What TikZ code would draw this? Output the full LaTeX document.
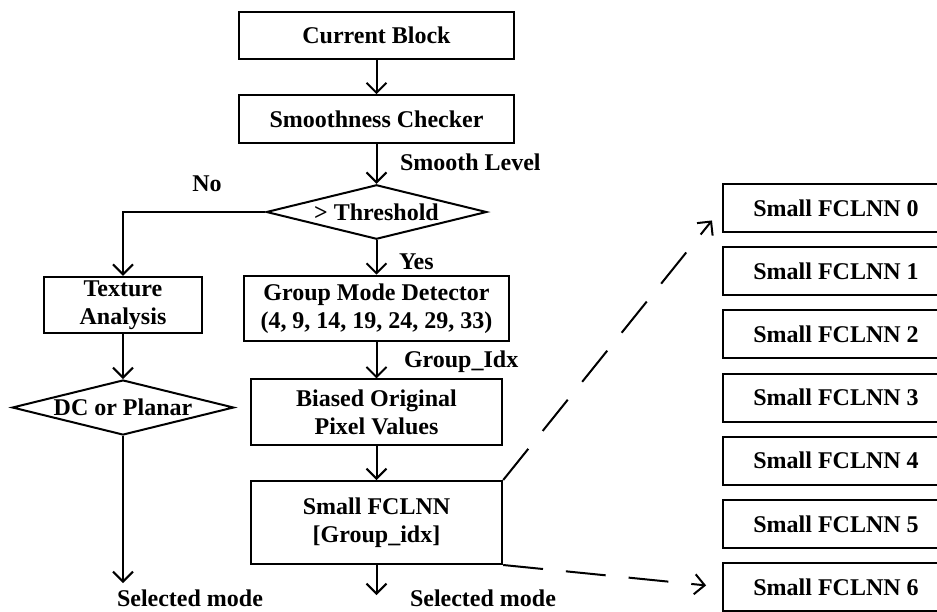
\documentclass[tikz,border=0pt]{standalone}
\usepackage{fontspec}
\setmainfont{Liberation Serif}
\usetikzlibrary{shapes.geometric,arrows.meta}

\begin{document}
\begin{tikzpicture}[x=0.5pt,y=-0.5pt,
    font=\bfseries\fontsize{12}{14}\selectfont,
    line width=1pt,
    >={Straight Barb[length=5pt,width=10pt]},
    box/.style={draw,rectangle,align=center,inner sep=0pt},
    decision/.style={draw,diamond,aspect=4,inner sep=0pt},
    netbox/.style={draw,rectangle,inner sep=0pt,minimum width=113pt,minimum height=24pt},
    lbl/.style={inner sep=0pt},
    link/.style={dash pattern=on 20pt off 11.5pt,shorten >=8pt}]

  % canvas; the FCLNN column runs off the right edge
  \useasboundingbox (0,0) rectangle (937,611);
  \clip (0,0) rectangle (937,611);

  \def\midx{376.5}   % main column
  \def\leftx{123}    % "No" branch column

  % main column
  \node[box, minimum width=137.9pt, minimum height=23.8pt] (cur) at (\midx,35.5) {Current Block};
  \node[box, minimum width=137.9pt, minimum height=23.8pt] (smooth) at (\midx,119) {Smoothness Checker};
  \node[decision, minimum width=110.2pt, minimum height=27.2pt] (thr) at (\midx,212) {> Threshold};
  \node[box, minimum width=132.5pt, minimum height=32.7pt] (group) at (\midx,308.4)
    {Group Mode Detector\\(4, 9, 14, 19, 24, 29, 33)};
  \node[box, minimum width=125.7pt, minimum height=32.8pt] (biased) at (\midx,412.2)
    {Biased Original\\Pixel Values};
  \node[box, minimum width=125.7pt, minimum height=41.5pt] (fcl) at (\midx,522.5)
    {Small FCLNN\\{[Group\_idx]}};

  % texture branch
  \node[box, minimum width=79pt, minimum height=28.2pt] (tex) at (\leftx,305) {Texture\\Analysis};
  \node[decision, minimum width=110.8pt, minimum height=27.5pt] (dc) at (\leftx,407.5) {DC or Planar};

  % loose ends of the output arrows
  \coordinate (outl) at (\leftx,583);
  \coordinate (outr) at (\midx,595);

  % the seven small networks
  \foreach \i in {0,...,6}
    \node[netbox] (nn\i) at (836,{208+63.17*\i}) {Small FCLNN \i};

  % flow
  \draw[->] (cur) -- (smooth);
  \draw[->] (smooth) -- (thr);
  \draw[->] (thr) -- (group);
  \draw[->] (thr.west) -| (tex.north);
  \draw[->] (tex) -- (dc);
  \draw[->] (dc) -- (outl);
  \draw[->] (group) -- (biased);
  \draw[->] (biased) -- (fcl);
  \draw[->] (fcl) -- (outr);

  % fan out to the network column
  \draw[->, link] (fcl.north east) -- (nn0.west);
  \draw[->, link] (fcl.south east) -- (nn6.west);

  % edge labels
  \node[lbl, anchor=base west] (smoothlvl) at (399,170) {Smooth Level};
  \node[lbl, anchor=base] (no) at (207,191.7) {No};
  \node[lbl, anchor=base west] (yes) at (398,269.3) {Yes};
  \node[lbl, anchor=base west] (gidx) at (403,367.3) {Group\_Idx};
  \node[lbl, anchor=base west] (sell) at (116,606.5) {Selected mode};
  \node[lbl, anchor=base west] (selr) at (409,606.5) {Selected mode};

\end{tikzpicture}
\end{document}
